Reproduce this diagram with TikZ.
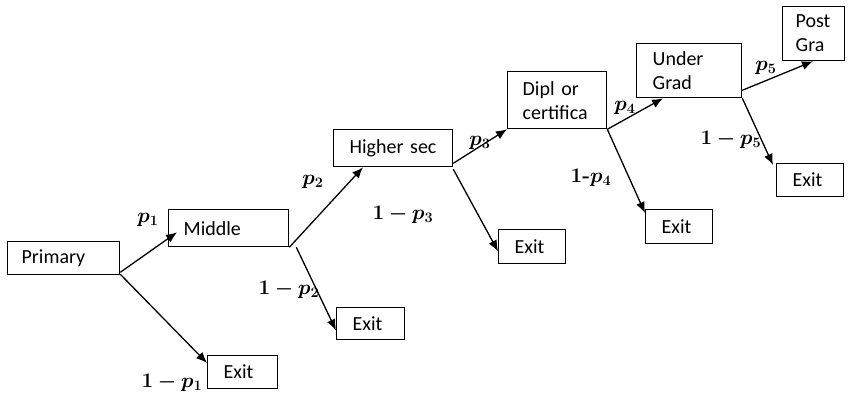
\documentclass[tikz,border=0pt]{standalone}
\usepackage[no-math]{fontspec}
\usepackage{bm}
\newfontfamily\boxfont{Carlito}
\usetikzlibrary{arrows.meta,calc}
\tikzset{
  box/.style={draw, line width=1.3pt, anchor=north west, align=left,
    inner ysep=0pt, font=\boxfont\fontsize{20}{24}\selectfont},
  conn/.style={line width=1.3pt, -{Latex[length=11pt,width=9pt]}},
  lbl/.style={font=\fontsize{17.28}{20}\selectfont, inner sep=0pt, scale=1.2, transform shape}
}
\begin{document}
\begin{tikzpicture}[x=1pt,y=1pt]
\useasboundingbox (0,0) rectangle (850,-398);
% boxes
\node[box, minimum width=112pt, minimum height=33pt, inner xsep=14pt, text width=84pt] (prim) at (7,-241) {Primary};
\node[box, minimum width=120pt, minimum height=37pt, inner xsep=15pt, text width=90pt] (mid) at (168,-209) {Middle};
\node[box, minimum width=70pt, minimum height=33pt, inner xsep=16pt, text width=38pt] (ex1) at (207,-355) {Exit};
\node[box, minimum width=119pt, minimum height=37pt, inner xsep=16pt, text width=87pt] (hs) at (333,-129) {Higher sec};
\node[box, minimum width=68pt, minimum height=32pt, inner xsep=16pt, text width=36pt] (ex2) at (336,-307) {Exit};
\node[box, minimum width=67pt, minimum height=34pt, inner xsep=16pt, text width=35pt] (ex3) at (498,-229) {Exit};
\node[box, minimum width=99pt, minimum height=57pt, inner xsep=15pt, text width=69pt] (dipl) at (507,-71) {Dipl or\\certifica};
\node[box, minimum width=67pt, minimum height=34pt, inner xsep=16pt, text width=35pt] (ex4) at (645,-209) {Exit};
\node[box, minimum width=105pt, minimum height=54pt, inner xsep=16pt, text width=73pt] (ug) at (636,-43) {Under\\Grad};
\node[box, minimum width=67pt, minimum height=33pt, inner xsep=16pt, text width=35pt] (ex5) at (776,-163) {Exit};
\node[box, minimum width=62pt, minimum height=54pt, inner xsep=13pt, text width=36pt] (pg) at (782,-6) {Post\\Gra};
% connectors
\draw[conn] ($(prim.south east)+(0,3)$) -- ($(mid.south west)+(9,15)$);
\draw[conn] ($(prim.south east)+(0,1)$) -- ($(ex1.north west)+(0,-8)$);
\draw[conn] (mid.south east) -- ($(hs.south west)+(30,0)$);
\draw[conn] ($(mid.south east)+(7,0)$) -- ($(ex2.south west)+(0,10)$);
\draw[conn] ($(hs.south east)+(0,4)$) -- (dipl.south west);
\draw[conn] ($(hs.south east)+(0,-2)$) -- ($(ex3.south west)+(0,13)$);
\draw[conn] (dipl.south east) -- ($(ug.south west)+(27,0)$);
\draw[conn] (dipl.south east) -- ($(ex4.north west)+(0,-4)$);
\draw[conn] ($(ug.south east)+(0,8)$) -- ($(pg.south west)+(31,0)$);
\draw[conn] (ug.south east) -- ($(ex5.north west)+(-3,-2)$);
% labels
\node[lbl] (lab1) at (148,-220) {$\bm{p_1}$};
\node[lbl] (lab2) at (172,-383) {$\bm{1-p_1}$};
\node[lbl] (lab3) at (313,-182) {$\bm{p_2}$};
\node[lbl] (lab4) at (289,-290) {$\bm{1-p_2}$};
\node[lbl] (lab5) at (480,-143) {$\bm{p_3}$};
\node[lbl] (lab6) at (403,-215) {$\bm{1-p_3}$};
\node[lbl] (lab7) at (625,-108) {$\bm{p_4}$};
\node[lbl] (lab8) at (591,-178) {$\bm{1}$\textbf{-}$\bm{p_4}$};
\node[lbl] (lab9) at (766,-68) {$\bm{p_5}$};
\node[lbl] (lab10) at (731,-140) {$\bm{1-p_5}$};
\end{tikzpicture}
\end{document}
